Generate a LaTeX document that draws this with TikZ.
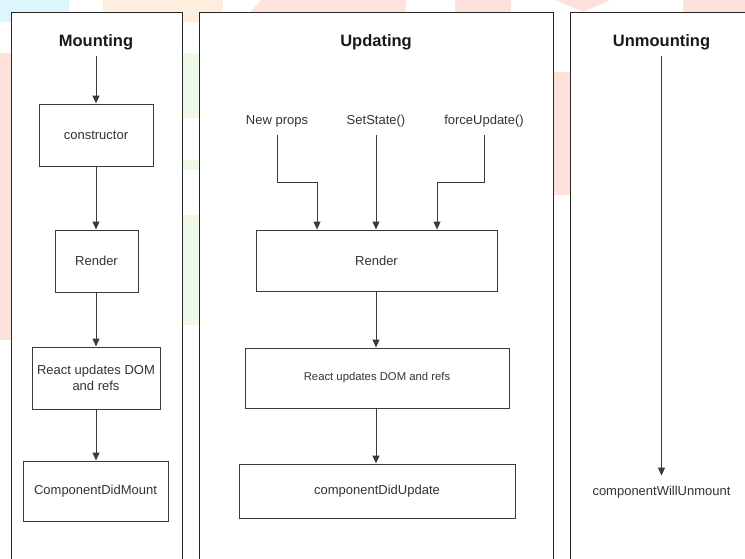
\documentclass[tikz,border=0pt]{standalone}
\usepackage{fontspec}
\setmainfont{Liberation Sans}
\usetikzlibrary{arrows.meta}
\definecolor{wmblue}{HTML}{DDF5FC}
\definecolor{wmpeach}{HTML}{FDEEDF}
\definecolor{wmpink}{HTML}{FDE2DC}
\definecolor{wmgreen}{HTML}{EFF9E8}
\definecolor{boxline}{HTML}{3A3A3A}
\definecolor{txt}{HTML}{333333}
\tikzset{
  panel/.style={draw=black!85, line width=1pt, fill=white},
  box/.style={draw=boxline, line width=1pt, fill=white, text=txt, inner sep=0pt,
    font=\fontsize{13}{15.5}\selectfont, align=center},
  title/.style={font=\fontsize{16.5}{19}\selectfont\bfseries, text=black!90, inner sep=0pt,
    text height=12pt, text depth=3.5pt},
  lbl/.style={font=\fontsize{13}{15.5}\selectfont, text=txt, inner sep=0pt,
    text height=9.5pt, text depth=3pt},
  arr/.style={draw=boxline, line width=1pt, -{Triangle[length=8pt,width=7pt]}},
  conn/.style={draw=boxline, line width=1pt}
}
\begin{document}
\begin{tikzpicture}[x=1pt,y=-1pt]
\useasboundingbox (0,0) rectangle (745,558);
\clip (0,0) rectangle (745,558);
% faint watermark patches
\fill[wmblue] (0,0) rectangle (69,22);
\fill[wmpeach] (103,0) rectangle (223,22);
\fill[wmpink!70!wmpeach] (261,0) -- (406,0) -- (406,12) -- (250,12) -- cycle;
\fill[wmpink] (455,0) rectangle (511,12);
\fill[wmpink] (556,0) -- (610,0) -- (583,12) -- cycle;
\fill[wmpink] (683,0) rectangle (745,12);
\fill[wmpeach] (182,0) rectangle (200,21);
\fill[wmgreen] (182,53) rectangle (200,118);
\fill[wmgreen] (182,160) rectangle (200,170);
\fill[wmgreen] (182,215) rectangle (200,325);
\fill[wmpink] (553,72) rectangle (570,195);
\fill[wmpink] (0,53) rectangle (11,340);
% panels
\draw[panel] (11,12) rectangle (182,575);
\draw[panel] (199.5,12) rectangle (553,575);
\draw[panel] (570.5,12) rectangle (760,575);
% Mounting
\node[title] (mt) at (96,42) {Mounting};
\node[box, minimum width=114pt, minimum height=62pt] (con) at (96,135) {constructor};
\node[box, minimum width=83pt, minimum height=62pt] (mrend) at (96.5,261) {Render};
\node[box, minimum width=128pt, minimum height=62pt] (mdom) at (96,378) {React updates DOM\\and refs};
\node[box, minimum width=145pt, minimum height=60pt] (cdm) at (95.5,491) {ComponentDidMount};
\draw[arr, shorten <=6pt] (mt.south) -- (con.north -| mt.south);
\draw[arr] (con.south -| mt.south) -- (mrend.north -| mt.south);
\draw[arr] (mrend.south -| mt.south) -- (mdom.north -| mt.south);
\draw[arr] (mdom.south -| mt.south) -- (cdm.north -| mt.south);
% Updating
\node[title] (ut) at (376,42) {Updating};
\node[lbl] (np) at (277,121) {New props};
\node[lbl] (ss) at (376,121) {SetState()};
\node[lbl] (fu) at (484,121) {forceUpdate()};
\node[box, minimum width=241pt, minimum height=61pt] (urend) at (376.5,260.5) {Render};
\node[box, minimum width=264pt, minimum height=60pt, font=\fontsize{11.3}{13}\selectfont] (udom) at (377,378) {React updates DOM and refs};
\node[box, minimum width=276pt, minimum height=54pt] (cdu) at (377,491) {componentDidUpdate};
\coordinate (npk) at (317,182);
\coordinate (fuk) at (437,182);
\draw[arr, shorten <=8pt] (np.south) |- (npk) -- (npk |- urend.north);
\draw[arr, shorten <=8pt] (ss.south) -- (ss.south |- urend.north);
\draw[arr, shorten <=8pt] (fu.south) |- (fuk) -- (fuk |- urend.north);
\draw[arr] (urend.south -| ss.south) -- (udom.north -| ss.south);
\draw[arr] (udom.south -| ss.south) -- (cdu.north -| ss.south);
% Unmounting
\node[title] (umt) at (661.5,42) {Unmounting};
\node[lbl] (cwu) at (661.5,492) {componentWillUnmount};
\draw[arr, shorten <=6pt, shorten >=10pt] (umt.south) -- (cwu.north);
\end{tikzpicture}
\end{document}
